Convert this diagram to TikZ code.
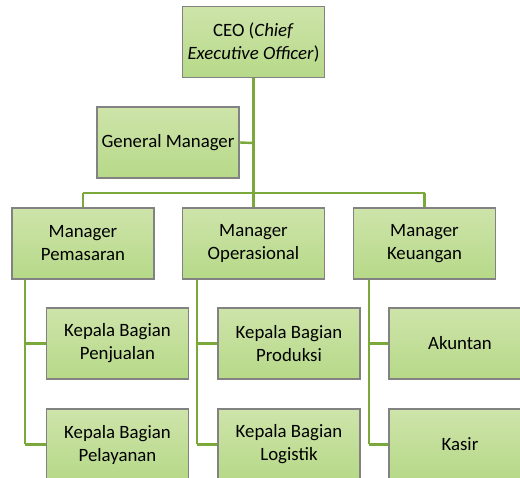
\documentclass[tikz,border=0pt]{standalone}
\usepackage{fontspec}
\setmainfont{Carlito}
\begin{document}
\begin{tikzpicture}[x=1pt,y=-1pt,
  box/.style={draw={rgb,255:red,130;green,130;blue,130}, line width=1.2pt,
    top color={rgb,255:red,206;green,228;blue,170}, bottom color={rgb,255:red,182;green,217;blue,136},
    minimum width=142pt, minimum height=71pt, inner sep=2pt, align=center,
    font=\fontsize{18.8}{23}\selectfont},
  conn/.style={draw={rgb,255:red,122;green,168;blue,58}, line width=2.4pt}]
\useasboundingbox (0,0) rectangle (520,478);
\clip (0,0) rectangle (520,478);
\coordinate (j1) at (253.5,143);
\coordinate (hl) at (83,193);
\coordinate (hr) at (424.5,193);
\coordinate (c1) at (25,444.5);
\coordinate (c2) at (197,444.5);
\coordinate (c3) at (369,444.5);
\node[box] (ceo) at (253.5,42) {CEO (\textit{Chief}\\\textit{Executive Officer})};
\node[box] (gm) at (168,142.5) {General Manager};
\node[box] (m1) at (83,243.5) {Manager\\Pemasaran};
\node[box] (m2) at (253.5,243.5) {Manager\\Operasional};
\node[box] (m3) at (424.5,243.5) {Manager\\Keuangan};
\node[box] (k1) at (117.5,343.5) {Kepala Bagian\\Penjualan};
\node[box] (k2) at (117.5,444.5) {Kepala Bagian\\Pelayanan};
\node[box] (k3) at (289,343.5) {Kepala Bagian\\Produksi};
\node[box] (k4) at (289,444.5) {Kepala Bagian\\Logistik};
\node[box] (k5) at (460,343.5) {Akuntan};
\node[box] (k6) at (460,444.5) {Kasir};
\path[conn] (ceo.south) -- (m2.north);
\path[conn] (gm.east) -- (j1);
\path[conn] (hl) -- (hr);
\path[conn] (hl) -- (m1.north);
\path[conn] (hr) -- (m3.north);
\path[conn] (m1.south -| c1) -- (c1);
\path[conn] (k1.west -| c1) -- (k1.west);
\path[conn] (c1) -- (k2.west);
\path[conn] (m2.south -| c2) -- (c2);
\path[conn] (k3.west -| c2) -- (k3.west);
\path[conn] (c2) -- (k4.west);
\path[conn] (m3.south -| c3) -- (c3);
\path[conn] (k5.west -| c3) -- (k5.west);
\path[conn] (c3) -- (k6.west);
\end{tikzpicture}
\end{document}
